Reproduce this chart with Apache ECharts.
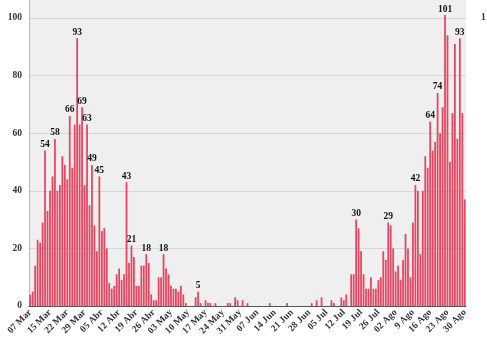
<!DOCTYPE html>
<html>
<head>
<meta charset="utf-8">
<script src="https://cdn.jsdelivr.net/npm/echarts@6/dist/echarts.min.js"></script>
<style>
  html, body { margin: 0; padding: 0; background: #ffffff; }
  #chart { width: 487px; height: 349px; }
</style>
</head>
<body>
<div id="chart"></div>
<script>
// Daily new cases, 7 March to 30 August
const monthNames = ['Mar', 'Abr', 'May', 'Jun', 'Jul', 'Ago'];
const monthStart = [7, 1, 1, 1, 1, 1];
const monthEnd = [31, 30, 31, 30, 31, 30];

const cases = [
  4, 5, 14, 23, 22, 29, 54, 33, 40, 45,
  58, 40, 42, 52, 49, 44, 66, 48, 63, 93,
  63, 69, 42, 63, 35, 49, 28, 19, 45, 26,
  27, 20, 8, 6, 7, 11, 13, 9, 11, 43,
  15, 21, 17, 7, 7, 14, 14, 18, 15, 4,
  2, 2, 10, 10, 18, 13, 11, 7, 6, 6,
  5, 7, 4, 1, 0, 0, 0, 3, 5, 1,
  0, 2, 1, 1, 0, 1, 0, 0, 0, 0,
  1, 1, 0, 3, 2, 0, 2, 0, 1, 0,
  0, 0, 0, 0, 0, 0, 0, 1, 0, 0,
  0, 0, 0, 0, 1, 0, 0, 0, 0, 0,
  0, 0, 0, 0, 1, 0, 2, 0, 3, 0,
  0, 0, 2, 1, 0, 0, 3, 2, 4, 0,
  11, 11, 30, 27, 19, 11, 6, 6, 10, 6,
  6, 9, 10, 19, 16, 29, 28, 20, 12, 14,
  9, 16, 25, 20, 10, 29, 42, 40, 18, 40,
  52, 48, 64, 54, 57, 74, 60, 69, 101, 94,
  50, 67, 91, 58, 93, 67, 37
];

// Days whose bar carries its value on top
const labeledDays = ['13 Mar', '17 Mar', '23 Mar', '26 Mar', '28 Mar', '30 Mar', '01 Abr',
  '04 Abr', '15 Abr', '17 Abr', '23 Abr', '30 Abr', '14 May', '17 Jul', '30 Jul',
  '10 Ago', '16 Ago', '19 Ago', '22 Ago', '28 Ago'];

// Dates shown on the x axis and the text printed for each
const tickDates = ['07 Mar', '15 Mar', '22 Mar', '29 Mar', '05 Abr', '12 Abr', '19 Abr', '26 Abr',
  '03 May', '10 May', '17 May', '24 May', '31 May', '07 Jun', '14 Jun', '21 Jun', '28 Jun',
  '05 Jul', '12 Jul', '19 Jul', '26 Jul', '02 Ago', '09 Ago', '16 Ago', '23 Ago', '30 Ago'];
const tickNames = ['07 Mar', '15 Mar', '22 Mar', '29 Mar', '05 Abr', '12 Abr', '19 Abr', '26 Abr',
  '03 May', '10 May', '17 May', '24 May', '31 May', '07 Jun', '14 Jun', '21 Jun', '28 Jun',
  '05 Jul', '12 Jul', '19 Jul', '26 Jul', '02 Ago', '9 Ago', '16 Ago', '23 Ago', '30 Ago'];

const yTicks = [0, 20, 40, 60, 80, 100];

// Build the day categories
const days = [];
monthNames.forEach(function (m, i) {
  for (let d = monthStart[i]; d <= monthEnd[i]; d++) {
    days.push((d < 10 ? '0' : '') + d + ' ' + m);
  }
});

const serif = '"Liberation Serif", "DejaVu Serif", serif';

const barData = cases.map(function (v, i) {
  if (labeledDays.indexOf(days[i]) >= 0) {
    return {
      value: v,
      label: {
        show: true, position: 'top', distance: 1,
        fontFamily: serif, fontWeight: 'bold', fontSize: 9.5, color: '#111'
      }
    };
  }
  return v;
});

const chart = echarts.init(document.getElementById('chart'), null, { renderer: 'canvas' });
chart.setOption({
  animation: false,
  backgroundColor: '#ffffff',
  grid: {
    left: 29, right: 21, top: 0, bottom: 43,
    show: true, backgroundColor: '#efefef', borderWidth: 0
  },
  xAxis: {
    type: 'category',
    data: days,
    boundaryGap: true,
    axisLine: { show: true, lineStyle: { color: '#555', width: 1 } },
    axisTick: { show: false },
    axisLabel: {
      interval: function (idx, val) { return tickDates.indexOf(val) >= 0; },
      formatter: function (val) {
        const k = tickDates.indexOf(val);
        return k >= 0 ? tickNames[k] : '';
      },
      rotate: 45,
      margin: 5,
      fontFamily: serif,
      fontWeight: 'bold',
      fontSize: 9.5,
      color: '#333'
    },
    splitLine: { show: false }
  },
  yAxis: {
    type: 'value',
    min: 0,
    max: 106.25,
    interval: 20,
    axisLine: { show: true, lineStyle: { color: '#bbbbbb', width: 1 } },
    axisTick: { show: false },
    axisLabel: {
      margin: 7,
      showMaxLabel: false,
      formatter: function (v) { return yTicks.indexOf(v) >= 0 ? String(v) : ''; },
      fontFamily: serif,
      fontWeight: 'bold',
      fontSize: 9.5,
      color: '#333'
    },
    splitLine: {
      show: true,
      lineStyle: {
        color: ['#d6d6d6', '#d6d6d6', '#d6d6d6', '#d6d6d6', '#d6d6d6', '#d6d6d6', 'rgba(0,0,0,0)'],
        width: 1
      }
    }
  },
  series: [{
    type: 'bar',
    data: barData,
    barCategoryGap: '28%',
    itemStyle: { color: '#e8445f' }
  }],
  graphic: [{
    type: 'text',
    left: 481,
    top: 13,
    style: {
      text: '1',
      font: 'bold 9.5px ' + serif,
      fill: '#333'
    }
  }]
});
</script>
</body>
</html>
